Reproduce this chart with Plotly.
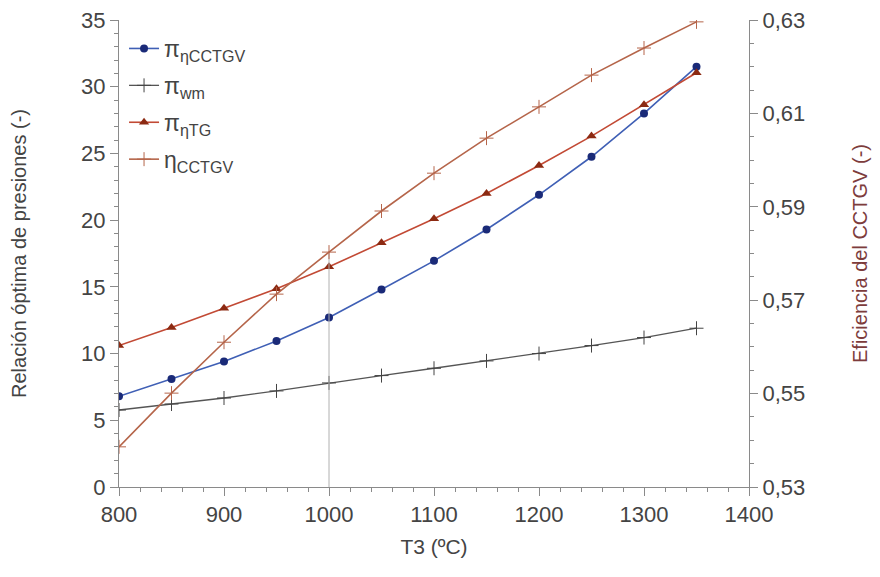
import plotly.graph_objects as go

T3 = [800, 850, 900, 950, 1000, 1050, 1100, 1150, 1200, 1250, 1300, 1350]
pi_eta_cctgv = [6.8, 8.1, 9.4, 10.95, 12.7, 14.8, 16.95, 19.3, 21.9, 24.75, 28.0, 31.5]
pi_wm = [5.77, 6.22, 6.67, 7.2, 7.8, 8.35, 8.9, 9.45, 10.0, 10.6, 11.2, 11.9]
pi_eta_tg = [10.6, 11.95, 13.4, 14.85, 16.5, 18.3, 20.1, 22.0, 24.1, 26.3, 28.65, 31.05]
eta_cctgv = [0.5386, 0.5501, 0.5610, 0.5713, 0.5803, 0.5891, 0.5972, 0.6047, 0.6114, 0.6182, 0.6240, 0.6296]

names = ["π<sub>ηCCTGV</sub>", "π<sub>wm</sub>", "π<sub>ηTG</sub>", "η<sub>CCTGV</sub>"]
left_ticks = [0, 5, 10, 15, 20, 25, 30, 35]
right_ticks = [0.53, 0.55, 0.57, 0.59, 0.61, 0.63]
right_ticklabels = ["0,53", "0,55", "0,57", "0,59", "0,61", "0,63"]
x_ticks = [800, 900, 1000, 1100, 1200, 1300, 1400]

FONT = "Liberation Sans, Arial, sans-serif"

fig = go.Figure()

# drop line at T3 = 1000 down from the efficiency curve
i1000 = T3.index(1000)
fig.add_trace(go.Scatter(x=[T3[i1000], T3[i1000]], y=[right_ticks[0], eta_cctgv[i1000]],
                         yaxis="y2", mode="lines", line=dict(color="#b0b0b0", width=1),
                         showlegend=False, hoverinfo="skip"))

fig.add_trace(go.Scatter(x=T3, y=pi_eta_cctgv, name=names[0], legendgroup="a",
                         mode="lines+markers", line=dict(color="#3f5fb5", width=1.6),
                         marker=dict(symbol="circle", size=8, color="#1a2a78")))
fig.add_trace(go.Scatter(x=T3, y=pi_wm, name=names[1], legendgroup="b",
                         mode="lines+markers", line=dict(color="#555555", width=1.3),
                         marker=dict(symbol="cross-thin", size=10, line=dict(color="#444444", width=1))))
fig.add_trace(go.Scatter(x=T3, y=pi_eta_tg, name=names[2], legendgroup="c",
                         mode="lines+markers", line=dict(color="#c24a35", width=1.6),
                         marker=dict(symbol="triangle-up", size=9, color="#8c2a12")))
fig.add_trace(go.Scatter(x=T3, y=eta_cctgv, name=names[3], legendgroup="d", yaxis="y2",
                         mode="lines+markers", line=dict(color="#b5654a", width=1.6),
                         marker=dict(symbol="cross-thin", size=10, line=dict(color="#b5654a", width=1))))

axis_common = dict(showgrid=False, zeroline=False, showline=True, linecolor="#8a8a8a", linewidth=1,
                   ticks="outside", tickcolor="#8a8a8a", ticklen=8, automargin=False,
                   ticklabeloverflow="allow",
                   tickfont=dict(family=FONT, size=22, color="#444444"))

fig.update_layout(
    width=872, height=569,
    margin=dict(l=111, r=131, t=12, b=90),
    paper_bgcolor="white", plot_bgcolor="white",
    font=dict(family=FONT, color="#444444"),
    xaxis=dict(range=[800, 1400], tickvals=x_ticks,
               minor=dict(dtick=20, ticks="outside", ticklen=4, tickcolor="#8a8a8a"),
               title=dict(text="T3 (ºC)", font=dict(family=FONT, size=21, color="#444444"), standoff=12),
               **axis_common),
    yaxis=dict(range=[0, 35], tickvals=left_ticks,
               minor=dict(dtick=1, ticks="outside", ticklen=4, tickcolor="#8a8a8a"),
               title=dict(text="Relación óptima de presiones (-)", font=dict(family=FONT, size=20, color="#444444"), standoff=52),
               **axis_common),
    yaxis2=dict(range=[0.53, 0.63], tickvals=right_ticks, ticktext=right_ticklabels,
                overlaying="y", side="right", anchor="x",
                minor=dict(dtick=0.005, ticks="outside", ticklen=4, tickcolor="#8a8a8a"),
                title=dict(text="Eficiencia del CCTGV (-)", font=dict(family=FONT, size=20, color="#7d3c3c"), standoff=48),
                **axis_common),
    legend=dict(x=0.008, y=0.985, xanchor="left", yanchor="top", bgcolor="rgba(0,0,0,0)",
                font=dict(family=FONT, size=23, color="#444444"), tracegroupgap=4,
                itemwidth=30),
    showlegend=True,
)

fig.write_html("out.html")
